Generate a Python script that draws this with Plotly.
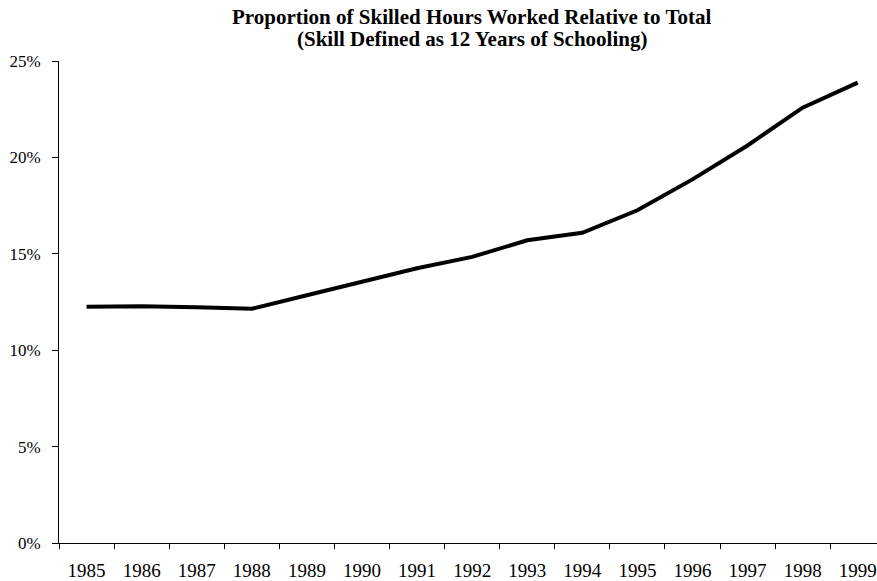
import plotly.graph_objects as go

years = ["1985", "1986", "1987", "1988", "1989", "1990", "1991", "1992",
         "1993", "1994", "1995", "1996", "1997", "1998", "1999"]
skilled_share = [12.26, 12.28, 12.23, 12.15, 12.85, 13.55, 14.25, 14.84,
                 15.70, 16.09, 17.26, 18.86, 20.62, 22.58, 23.88]
y_ticks = [0, 5, 10, 15, 20, 25]
y_tick_text = ["0%", "5%", "10%", "15%", "20%", "25%"]
title_line1 = "Proportion of Skilled Hours Worked Relative to Total"
title_line2 = "(Skill Defined as 12 Years of Schooling)"

FONT = "Liberation Serif, Times New Roman, serif"

fig = go.Figure()
fig.add_trace(go.Scatter(
    x=years, y=skilled_share, mode="lines",
    line=dict(color="black", width=4),
    showlegend=False, hoverinfo="x+y",
))

fig.update_layout(
    width=877, height=581,
    margin=dict(l=59, r=0, t=61, b=38, autoexpand=False),
    paper_bgcolor="white", plot_bgcolor="white",
    font=dict(family=FONT, size=17, color="black"),
    xaxis=dict(
        type="category", range=[-0.5, 14.35],
        tickson="boundaries", ticks="outside", ticklen=5, tickwidth=1,
        tickcolor="black", showline=True, linecolor="black", linewidth=1,
        showgrid=False, zeroline=False, ticklabelstandoff=10,
        tickfont=dict(family=FONT, size=19),
    ),
    yaxis=dict(
        range=[0, 25], tickvals=y_ticks, ticktext=y_tick_text,
        ticks="outside", ticklen=6, tickwidth=1, tickcolor="black",
        showline=True, linecolor="black", linewidth=1,
        showgrid=False, zeroline=False, ticklabelstandoff=8,
        tickfont=dict(family=FONT, size=17),
    ),
    annotations=[
        dict(text="<b>%s</b>" % title_line1, xref="paper", yref="paper",
             x=(472 - 59) / 818, y=1 + (61 - 17) / 482, xanchor="center",
             yanchor="middle", showarrow=False,
             font=dict(family=FONT, size=21, color="black")),
        dict(text="<b>%s</b>" % title_line2, xref="paper", yref="paper",
             x=(472 - 59) / 818, y=1 + (61 - 39) / 482, xanchor="center",
             yanchor="middle", showarrow=False,
             font=dict(family=FONT, size=21, color="black")),
    ],
)

fig.write_html("out.html",
               config={"displayModeBar": False},
               post_script="document.body.style.margin='0';document.body.style.overflow='hidden';")
